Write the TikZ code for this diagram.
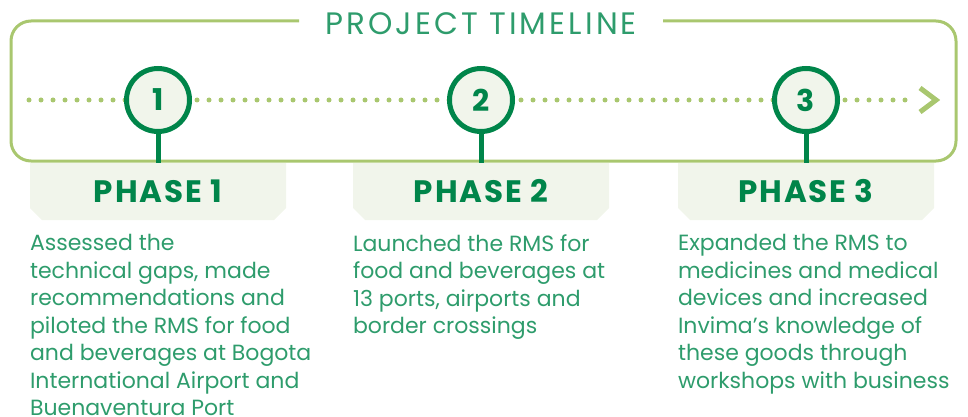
\documentclass[tikz,border=0pt]{standalone}
\usepackage{fontspec}
\setmainfont{Poppins}
\usetikzlibrary{positioning,shapes.misc}
\definecolor{leaf}{HTML}{A9C76F}
\definecolor{forest}{HTML}{00854A}
\definecolor{mint}{HTML}{2E9C6C}
\definecolor{paper}{HTML}{F1F5EB}
\tikzset{
  frame/.style={leaf,line width=3pt,rounded corners=20pt},
  dots/.style={leaf,line width=5pt,line cap=round,dash pattern=on 0pt off 12pt},
  stone/.style={circle,draw=forest,line width=5pt,fill=paper,minimum size=63pt,inner sep=0pt,
    text=forest,font=\fontsize{30}{30}\selectfont\bfseries},
  phasebox/.style={chamfered rectangle,chamfered rectangle corners={south west,south east},
    chamfered rectangle xsep=6pt,chamfered rectangle ysep=6pt,fill=paper,
    minimum width=256pt,minimum height=57pt,inner sep=0pt,
    text=forest,font=\fontsize{31}{31}\selectfont\bfseries\addfontfeatures{LetterSpace=6}},
  blurb/.style={inner sep=0pt,align=left,text=mint,font=\fontsize{22}{27.5}\selectfont}
}
\def\milestone#1#2#3{
  % 1: x
  % 2: number
  % 3: text below
  \node[stone] (c#2) at (#1,100) {#2};
  \node[phasebox] (p#2) at (#1,191.5) {PHASE #2};
  \draw[forest,line width=5pt] (c#2.south) -- (p#2.north);
  \node[blurb,below=20pt of p#2.south west,xshift=-6pt,anchor=north west] (t#2) {#3};
}

\begin{document}
\begin{tikzpicture}[x=1pt,y=-1pt]
  \useasboundingbox (0,0) rectangle (968,417);
  \coordinate (nw) at (11,21);
  \coordinate (se) at (956,161);
  \node[text=mint,inner xsep=26pt,font=\fontsize{31}{31}\selectfont\addfontfeatures{LetterSpace=10}] (title) at (481,24) {PROJECT TIMELINE};
  \draw[frame] (title.west |- nw) -| (se -| nw) -| (nw -| se) -- (title.east |- nw);
  % timeline
  \coordinate (start) at (29,100);
  \coordinate (tip) at (936,100);
  \draw[dots] (start) -- ([xshift=-26pt]tip);
  \draw[leaf,line width=5pt] ([xshift=-16pt,yshift=12pt]tip) -- (tip) -- ([xshift=-16pt,yshift=-12pt]tip);
  \milestone{158}{1}{Assessed the\\technical gaps, made\\recommendations and\\piloted the RMS for food\\and beverages at Bogota\\International Airport and\\Buenaventura Port}
  \milestone{481}{2}{Launched the RMS for\\food and beverages at\\13 ports, airports and\\border crossings}
  \milestone{806}{3}{Expanded the RMS to\\medicines and medical\\devices and increased\\Invima’s knowledge of\\these goods through\\workshops with business}
\end{tikzpicture}
\end{document}
